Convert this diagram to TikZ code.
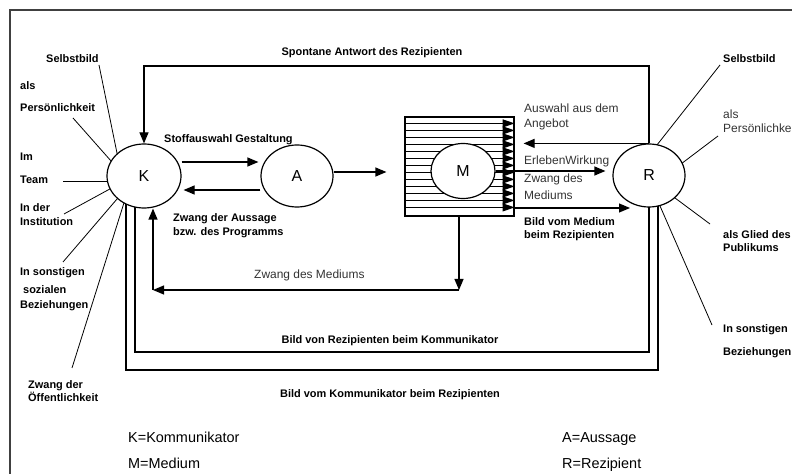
\documentclass[tikz,border=0pt]{standalone}
\usepackage{fontspec}
\setmainfont{Liberation Sans}
\usetikzlibrary{shapes.geometric,arrows.meta,calc}
\pgfdeclarelayer{bg}
\pgfsetlayers{bg,main}
\begin{document}
\begin{tikzpicture}[x=1bp,y=-1bp,
  arr/.style={line width=1.2bp,-{Triangle[length=11bp,width=9bp]}},
  ln/.style={line width=1.2bp},
  thinln/.style={line width=0.8bp},
  bl/.style={font=\bfseries\fontsize{11}{13}\selectfont,inner sep=0,anchor=west,text height=8bp,text depth=0bp},
  rl/.style={font=\fontsize{12}{14}\selectfont,text=black!80,inner sep=0,anchor=west,text height=8bp,text depth=0bp},
  leg/.style={font=\fontsize{14.5}{17}\selectfont,inner sep=0,anchor=west,text height=10bp,text depth=0bp},
  ell/.style={ellipse,draw,fill=white,line width=1.2bp,inner sep=0,font=\fontsize{16}{19}\selectfont}]
\useasboundingbox (0,0) rectangle (792,474);
\clip (0,0) rectangle (792,474);
% outer frame
\draw[line width=1.5bp,black!75] (10,480) -- (10,10) -- (800,10);

% nodes
\node[ell,minimum width=74bp,minimum height=64bp] (K) at (144,176) {K};
\node[ell,minimum width=72bp,minimum height=62bp] (A) at (297,176) {A};
\node[draw,line width=1.2bp,minimum width=109bp,minimum height=99bp,inner sep=0] (Mbox) at (459.5,166.5) {};
\foreach \k in {1,...,13}
  \draw[line width=0.9bp,-{Triangle[length=12bp,width=8bp]}] ($(Mbox.north west)+(0,7*\k)$) -- ($(Mbox.north east)+(0,7*\k)$);
\node[ell,minimum width=64bp,minimum height=55bp] (M) at (463,171) {M};
\node[ell,minimum width=72bp,minimum height=63bp] (R) at (649,175.5) {R};

% coordinates
\coordinate (bm) at (630,208);
\coordinate (z1) at (459,290);
\coordinate (z2) at (153,290);
\coordinate (top) at (0,66);

% connectors
\draw[arr,shorten >=2bp] (K.east |- 0,162) -- (A.west |- 0,162);
\draw[arr,shorten >=2bp] (A.west |- 0,190) -- (K.east |- 0,190);
\draw[arr,shorten >=18bp] (A.east |- 0,172) -- (Mbox.west |- 0,172);
\draw[arr] (R.north) -- (R.north |- top) -- (K.north |- top) -- (K.north);
\draw[arr] (R.north) -- ($(Mbox.east |- R.north)+(9,0)$);
\draw[arr,shorten >=7bp] (M.east) -- (M.east -| R.west);
\draw[arr] (Mbox.east |- bm) -- (bm);
\draw[arr] (Mbox.south -| z1) -- (z1);
\draw[arr] (z1) -- (z2);
\draw[arr] (z2) -- (z2 |- K.south);

\begin{pgfonlayer}{bg}
\draw[ln] (K.center -| 135,0) -- (135,352) -- (649,352) -- (R.center -| 649,0);
\draw[ln] (K.center -| 126,0) -- (126,370) -- (658,370) -- (R.center -| 658,0);
% left label lines
\coordinate (l1) at (99,65);
\coordinate (l2) at (73,118);
\coordinate (l3) at (63,181);
\coordinate (l4) at (64,214);
\coordinate (l5) at (63,262);
\coordinate (l6) at (72,368);
\draw[thinln] (l1) -- ($(K)+(-26.2,-19)$);
\draw[thinln] (l2) -- ($(K)+(-30.3,-12)$);
\draw[thinln] (l3) -- ($(K)+(-33,5)$);
\draw[thinln] (l4) -- ($(K)+(-30.5,11)$);
\draw[thinln] (l5) -- ($(K)+(-24.4,20)$);
\draw[thinln] (l6) -- ($(K)+(-18.8,23)$);
% right label lines
\coordinate (r1) at (720,65);
\coordinate (r2) at (718,136);
\coordinate (r3) at (710,224);
\coordinate (r4) at (712,325);
\draw[thinln] (r1) -- ($(R)+(5.6,-27.5)$);
\draw[thinln] (r2) -- ($(R)+(30,-10)$);
\draw[thinln] (r3) -- ($(R)+(22,19.5)$);
\draw[thinln] (r4) -- ($(R)+(9.4,26.8)$);
\end{pgfonlayer}

% left labels
\node[bl] (t1) at (46,59) {Selbstbild};
\node[bl] (t2) at (20,86) {als};
\node[bl] (t3) at (20,108) {Persönlichkeit};
\node[bl] (t4) at (20,157) {Im};
\node[bl] (t5) at (20,180) {Team};
\node[bl] (t6) at (20,208) {In der};
\node[bl] (t7) at (20,222) {Institution};
\node[bl] (t8) at (20,272) {In sonstigen};
\node[bl] (t9) at (23,290) {sozialen};
\node[bl] (t10) at (20,305) {Beziehungen};
\node[bl] (t11) at (28,384) {Zwang der};
\node[bl] (t12) at (28,397) {Öffentlichkeit};
% right labels
\node[bl] (u1) at (723,59) {Selbstbild};
\node[rl] (u2) at (723,115) {als};
\node[rl] (u3) at (723,129) {Persönlichkeit};
\node[bl] (u4) at (723,235) {als Glied des};
\node[bl] (u5) at (723,248) {Publikums};
\node[bl] (u6) at (723,329) {In sonstigen};
\node[bl] (u7) at (723,351) {Beziehungen};
% middle labels
\node[bl,anchor=center] (s1) at (372,52) {Spontane Antwort des Rezipienten};
\node[bl] (s2) at (164,139) {Stoffauswahl Gestaltung};
\node[bl] (s3) at (173,218) {Zwang der Aussage};
\node[bl] (s4) at (173,232) {bzw. des Programms};
\node[rl] (s5) at (254,275) {Zwang des Mediums};
\node[rl] (s6) at (524,109) {Auswahl aus dem};
\node[rl] (s7) at (524,124) {Angebot};
\node[rl] (s8) at (524,161) {ErlebenWirkung};
\node[rl] (s9) at (524,179) {Zwang des};
\node[rl] (s10) at (524,196) {Mediums};
\node[bl] (s11) at (524,222) {Bild vom Medium};
\node[bl] (s12) at (524,235) {beim Rezipienten};
\node[bl,anchor=center] (s13) at (390,340) {Bild von Rezipienten beim Kommunikator};
\node[bl,anchor=center] (s14) at (390,393) {Bild vom Kommunikator beim Rezipienten};
% legend
\node[leg] (g1) at (128,437) {K=Kommunikator};
\node[leg] (g2) at (128,463) {M=Medium};
\node[leg] (g3) at (562,437) {A=Aussage};
\node[leg] (g4) at (562,463) {R=Rezipient};
\end{tikzpicture}
\end{document}
